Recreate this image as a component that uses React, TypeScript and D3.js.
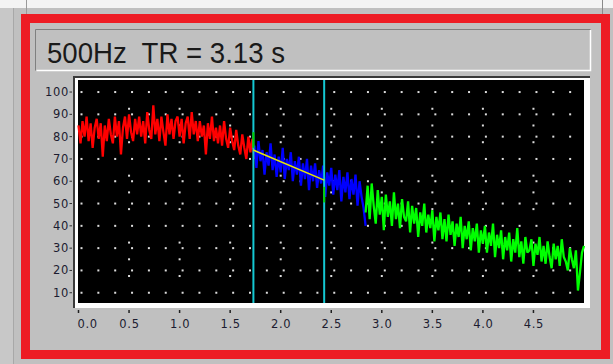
import * as d3 from 'd3';
import * as React from 'react';

// decay trace, sampled every 0.02 s
const sampleStep = 0.02;

const redStart = 0;
const redLevels = [
  85, 77, 87, 80, 89, 78, 86, 75, 84, 88,
  79, 86, 71, 85, 78, 88, 81, 77, 89, 80,
  87, 72, 84, 89, 79, 90, 82, 78, 88, 81,
  89, 80, 87, 77, 91, 83, 79, 94, 81, 88,
  78, 89, 82, 76, 90, 81, 88, 79, 87, 89,
  80, 88, 77, 86, 89, 79, 91, 81, 87, 78,
  87, 80, 85, 72, 86, 79, 89, 78, 84, 77,
  85, 76, 87, 79, 75, 84, 78, 74, 83, 76,
  72, 81, 75, 70, 80, 73, 79, 70,
];

const blueStart = 1.74;
const blueLevels = [
  76, 66, 78, 69, 74, 63, 73, 67, 77, 65,
  72, 62, 71, 64, 75, 61, 70, 65, 73, 60,
  69, 63, 71, 58, 68, 61, 70, 56, 67, 60,
  68, 57, 65, 59, 67, 53, 64, 58, 66, 54,
  63, 56, 65, 51, 62, 55, 64, 52, 61, 54,
  63, 49, 60, 53, 48, 40,
];

const greenStart = 2.84;
const greenLevels = [
  46, 58, 43, 59, 49, 41, 56, 45, 53, 38,
  54, 44, 51, 40, 55, 43, 50, 39, 52, 44,
  42, 51, 37, 49, 41, 48, 35, 46, 40, 50,
  37, 45, 39, 47, 33, 44, 38, 46, 34, 43,
  33, 45, 36, 42, 31, 41, 35, 44, 30, 40,
  34, 42, 29, 39, 33, 41, 28, 38, 32, 40,
  28, 37, 31, 41, 26, 36, 30, 38, 25, 35,
  29, 37, 24, 34, 28, 39, 26, 33, 23, 35,
  28, 29, 34, 22, 32, 27, 35, 24, 31, 23,
  33, 26, 21, 32, 25, 31, 22, 34, 26, 24,
  20, 30, 25, 21, 29, 11, 19, 28, 31,
];

// cursors and fitted line between them
const cursorTimes = [1.73, 2.43];
const cursorMarkHigh = [82, 57.5];
const cursorMarkLow = [75, 50.5];
const fitTimes = [1.73, 2.43];
const fitLevels = [74, 60.5];

const xTicks = [0, 0.5, 1.0, 1.5, 2.0, 2.5, 3.0, 3.5, 4.0, 4.5];
const yTicks = [10, 20, 30, 40, 50, 60, 70, 80, 90, 100];

const title = '500Hz  TR = 3.13 s';

const W = 613;
const H = 364;
const plot = { left: 78, top: 80, right: 584, bottom: 303 };

const x = d3.scaleLinear().domain([0, 5]).range([plot.left + 0.5, plot.right]);
const y = d3.scaleLinear().domain([5.4, 105.4]).range([plot.bottom, plot.top]);

const toPoints = (start: number, levels: number[]): [number, number][] =>
  levels.map((v, i) => [start + i * sampleStep, v]);

const line = d3.line<[number, number]>()
  .x((d) => x(d[0]))
  .y((d) => y(d[1]));

const labelFont = '"DejaVu Sans", Verdana, sans-serif';

export default function App() {
  const traces = [
    { pts: toPoints(redStart, redLevels), color: '#ff0000' },
    { pts: toPoints(blueStart, blueLevels), color: '#0000ff' },
    { pts: toPoints(greenStart, greenLevels), color: '#00ff00' },
  ];

  // dotted grid: rows on the level ticks, columns on the half-second ticks
  const dots: JSX.Element[] = [];
  const rowStep = 1 / 6;
  yTicks.forEach((v) => {
    for (let k = 0; k * rowStep < 5; k++) {
      const px = x(k * rowStep) + 3;
      if (px > plot.right - 1) break;
      dots.push(<rect key={`r${v}-${k}`} x={px - 1} y={y(v) - 1} width={2} height={2} fill='#dcdcdc' />);
    }
  });
  xTicks.slice(1).forEach((t) => {
    for (let m = 0; m <= 12; m++) {
      const v = 100 - m * 7.5;
      if (yTicks.indexOf(v) >= 0) continue;
      dots.push(<rect key={`c${t}-${m}`} x={x(t) - 1} y={y(v) - 1} width={2} height={2} fill='#dcdcdc' />);
    }
  });

  return (
    <svg width={W} height={H} style={{ position: 'absolute', left: 0, top: 0 }}>
      <rect x={0} y={0} width={W} height={H} fill='#c0c0c0' />
      <rect x={0} y={0} width={W} height={8} fill='#f4f4f4' />
      <rect x={0} y={8} width={13} height={H - 8} fill='#c8c8c8' />
      <line x1={13.5} y1={8} x2={13.5} y2={H} stroke='#a8a8a8' />
      <line x1={26.5} y1={0} x2={26.5} y2={14} stroke='#9a9a9a' />
      <line x1={602.5} y1={0} x2={602.5} y2={14} stroke='#8a8a8a' />

      <rect x={25.5} y={18.5} width={580} height={336} fill='none' stroke='#ed1c24' strokeWidth={9} />

      {/* title box */}
      <rect x={35} y={29} width={556} height={42} fill='#c0c0c0' />
      <path d='M35.5,70.5 V29.5 H590.5' fill='none' stroke='#808080' />
      <path d='M36.5,70.5 H590.5 V30' fill='none' stroke='#ffffff' strokeWidth={1.5} />
      <text x={47} y={62.5} fontFamily='"Liberation Sans", Arial, sans-serif' fontSize={29}
        textLength={238} lengthAdjust='spacingAndGlyphs' fill='#1a1a1a'
        style={{ whiteSpace: 'pre' }}>{title}</text>

      {/* plot frame */}
      <rect x={73} y={76} width={517} height={232} fill='#ffffff' />
      <path d='M74,308 V77 H590' fill='none' stroke='#3a3a3a' strokeWidth={2} />
      <rect x={plot.left} y={plot.top} width={plot.right - plot.left} height={plot.bottom - plot.top} fill='#000000' />

      {dots}

      {traces.map((tr, i) => (
        <path key={i} d={line(tr.pts) || ''} fill='none' stroke={tr.color} strokeWidth={2.3}
          strokeLinejoin='miter' strokeMiterlimit={2} />
      ))}

      {cursorTimes.map((t, i) => (
        <line key={`cur${i}`} x1={x(t)} y1={plot.top} x2={x(t)} y2={plot.bottom} stroke='#14c8d2' strokeWidth={2} />
      ))}
      {cursorTimes.map((t, i) => (
        <line key={`mk${i}`} x1={x(t)} y1={y(cursorMarkHigh[i])} x2={x(t)} y2={y(cursorMarkLow[i])} stroke='#00d000' strokeWidth={2} />
      ))}

      <path d={line(fitTimes.map((t, i) => [t, fitLevels[i]] as [number, number])) || ''}
        fill='none' stroke='#e8e800' strokeWidth={1.6} />

      {/* y axis */}
      {yTicks.map((v) => (
        <g key={`yt${v}`}>
          <line x1={69.5} y1={y(v)} x2={72} y2={y(v)} stroke='#303030' />
          <text x={69} y={y(v) + 4} textAnchor='end' fontFamily={labelFont} fontSize={11.5}
            letterSpacing={0.7} fill='#1c1c30'>{v}</text>
        </g>
      ))}

      {/* x axis */}
      {xTicks.map((t, i) => (
        <g key={`xt${t}`}>
          <line x1={x(t)} y1={310} x2={x(t)} y2={313} stroke='#202020' strokeWidth={1.5} />
          <text x={i === 0 ? x(t) - 1 : x(t) + 0.5} y={327.5} textAnchor={i === 0 ? 'start' : 'middle'}
            fontFamily={labelFont} fontSize={11.5} letterSpacing={0.7} fill='#1c1c30'>{t.toFixed(1)}</text>
        </g>
      ))}
    </svg>
  );
}
